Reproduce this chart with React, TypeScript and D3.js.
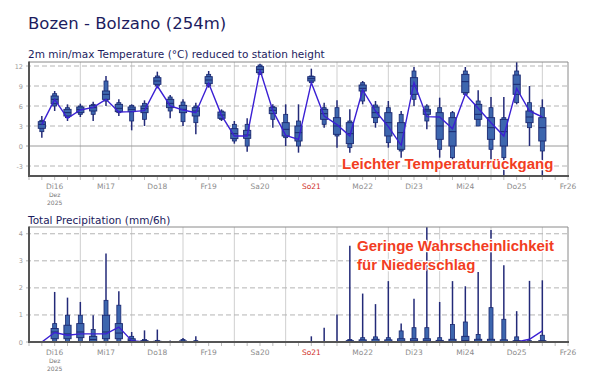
import * as React from 'react';
import * as d3 from 'd3';

// time axis: 16 Dec 00 UTC .. 26 Dec 12 UTC, ensemble boxes every 6h
const startTime = new Date(Date.UTC(2025, 11, 16, 0));
const endTime = new Date(Date.UTC(2025, 11, 26, 12));
const dayLabels = ['Di16', 'Mi17', 'Do18', 'Fr19', 'Sa20', 'So21', 'Mo22', 'Di23', 'Mi24', 'Do25', 'Fr26'];
const sundayLabel = 'So21';

// 2m temperature (°C), one value per 6h step
const tMin = [1.25, 5.25, 3.75, 4.35, 3.75, 6.0, 4.5, 2.35, 3.0, 8.65, 4.15, 3.0, 1.75, 8.75, 3.75, 0.35, -0.85, 10.65, 2.75, 0, -1.0, 9.4, 2.75, -0.25, -1.0, 6.25, 2.75, -0.25, -1.75, 6.0, 2.5, -1.75, -2.0, 7.75, 3.0, -2.0, -4.8, 6.25, 0, -4.8];
const tP10 = [2.15, 6.0, 4.25, 4.75, 4.75, 6.75, 5.0, 3.75, 4.0, 9.0, 5.25, 3.65, 3.5, 9.0, 4.0, 0.75, 0, 10.75, 4.0, 1.25, 0, 9.5, 3.25, 1.5, -0.25, 6.75, 3.5, 0.5, -0.75, 7.0, 3.75, -0.5, -1.75, 7.75, 3.0, -0.5, -1.75, 6.5, 2.75, -0.75];
const tP25 = [2.65, 6.35, 4.5, 5.0, 5.25, 7.0, 5.15, 5.15, 5.0, 9.25, 5.75, 5.0, 4.5, 9.35, 4.15, 1.1, 1.15, 11.0, 4.85, 1.5, 0.75, 9.75, 4.0, 1.75, 0.35, 8.25, 4.25, 1.5, -0.5, 7.75, 4.75, 1.0, 0, 8.0, 4.0, 1.0, 0, 7.75, 3.5, 0.75];
const tMed = [3.25, 7.0, 5.0, 5.5, 5.75, 7.75, 5.65, 5.5, 5.6, 9.75, 6.4, 5.5, 5.25, 9.9, 4.65, 1.85, 1.65, 11.5, 5.35, 2.5, 2.0, 10.1, 4.85, 3.0, 1.85, 8.65, 5.0, 3.5, 2.0, 9.0, 5.25, 3.0, 2.15, 9.65, 4.75, 2.75, 2.15, 9.25, 4.35, 2.75];
const tP75 = [3.65, 7.5, 5.5, 5.85, 6.1, 8.25, 6.25, 5.85, 6.0, 10.25, 7.0, 6.1, 5.75, 10.4, 5.1, 2.6, 2.35, 11.9, 5.75, 3.5, 3.0, 10.4, 5.5, 4.25, 3.5, 9.15, 5.85, 5.0, 3.5, 10.25, 5.5, 5.0, 4.25, 10.75, 6.25, 4.25, 4.0, 10.65, 5.25, 4.25];
const tP90 = [3.85, 7.85, 5.75, 6.0, 6.25, 9.75, 6.5, 6.1, 6.4, 10.5, 7.35, 6.6, 6.0, 10.75, 5.25, 3.25, 3.25, 12.15, 5.9, 4.75, 3.75, 10.5, 5.75, 5.75, 3.75, 9.5, 6.15, 5.75, 4.75, 11.25, 6.0, 5.75, 5.0, 11.25, 6.75, 5.75, 4.25, 11.25, 6.5, 5.75];
const tMax = [4.5, 8.25, 6.25, 6.35, 6.65, 10.5, 7.0, 6.25, 6.85, 11.15, 7.65, 7.0, 6.5, 11.25, 5.5, 3.75, 4.15, 12.35, 6.25, 6.25, 6.25, 11.6, 6.5, 6.85, 5.5, 9.75, 6.75, 6.75, 5.25, 11.85, 6.25, 7.25, 5.25, 11.85, 8.35, 7.35, 7.35, 12.65, 9.0, 7.0];
const tLine = [3.2, 7.0, 4.15, 5.4, 5.8, 7.0, 5.1, 5.15, 5.3, 9.0, 6.0, 5.4, 5.0, 9.4, 4.6, 1.5, 1.5, 11.4, 5.3, 1.6, 1.0, 9.5, 4.5, 3.2, 1.5, 8.4, 5.25, 2.9, 0.1, 9.5, 4.4, 4.35, 2.6, 7.8, 5.65, 3.5, 1.5, 8.6, 5.25, 4.35];
const tTicks = [-3, 0, 3, 6, 9, 12];

// total precipitation (mm/6h)
const pMax = [0, 1.85, 1.64, 1.48, 0.99, 3.27, 1.88, 0.37, 0.43, 0.46, 0.06, 0.15, 0.21, 0, 0, 0, 0, 0, 0, 0, 0, 0.21, 0.53, 1.02, 3.56, 1.79, 1.4, 2.25, 0.68, 1.6, 5.0, 1.48, 2.25, 2.06, 2.59, 4.14, 2.84, 1.14, 2.26, 2.28];
const pP90 = [0, 0.68, 0.99, 0.99, 0.46, 1.54, 1.36, 0.21, 0.09, 0.06, 0.02, 0.09, 0.05, 0, 0, 0, 0, 0, 0, 0, 0, 0, 0, 0, 0.09, 0.16, 0.19, 0.16, 0.41, 0.53, 0.53, 0.16, 0.65, 0.74, 0.28, 1.27, 0.84, 0.19, 0.05, 0.25];
const pP75 = [0, 0.5, 0.62, 0.68, 0.21, 0.99, 0.68, 0.12, 0.05, 0.03, 0, 0.04, 0.02, 0, 0, 0, 0, 0, 0, 0, 0, 0, 0, 0, 0.05, 0.08, 0.1, 0.08, 0.12, 0.12, 0.12, 0.06, 0.1, 0.21, 0.1, 0.1, 0.08, 0.05, 0, 0.05];
const pMed = [0, 0.37, 0.3, 0.37, 0.09, 0.37, 0.33, 0.05, 0.02, 0.01, 0, 0.01, 0, 0, 0, 0, 0, 0, 0, 0, 0, 0, 0, 0, 0.01, 0.02, 0.02, 0.02, 0.03, 0.04, 0.04, 0.02, 0.03, 0.05, 0.03, 0.03, 0.02, 0.01, 0, 0.01];
const pP25 = [0, 0.12, 0.12, 0.16, 0, 0.12, 0.12, 0, 0, 0, 0, 0, 0, 0, 0, 0, 0, 0, 0, 0, 0, 0, 0, 0, 0, 0, 0, 0, 0, 0, 0, 0, 0, 0, 0, 0, 0, 0, 0, 0];
const pLine = [0, 0.35, 0.25, 0.3, 0.3, 0.3, 0.55, 0.05, 0, 0, 0, 0, 0, 0, 0, 0, 0, 0, 0, 0, 0, 0, 0, 0, 0, 0, 0, 0, 0, 0, 0, 0, 0, 0, 0, 0, 0, 0, 0.1, 0.41];
const pTicks = [0, 1, 2, 3, 4];

const navy = '#1c1c5e';
const boxFill = '#3d66ae';
const boxStroke = '#1b2870';
const whiskerColor = '#232a78';
const lineColor = '#3b20d4';
const redText = '#f23d22';
const axisGray = '#8c8c8c';

const left = 29;
const right = 568;

const x = d3.scaleUtc().domain([startTime, endTime]).range([left, right]);
const stepTimes = tMin.map((_, i) => d3.utcHour.offset(startTime, 6 * (i + 1)));
const dayStarts = d3.utcDay.range(d3.utcDay.offset(startTime, 1), endTime);
const sixHours = d3.utcHour.every(6)!.range(startTime, d3.utcHour.offset(endTime, 1));
const noons = dayLabels.map((_, i) => d3.utcHour.offset(startTime, 12 + 24 * i));

interface PanelProps {
  id: string;
  top: number;
  bottom: number;
  domain: [number, number];
  ticks: number[];
  lo: number[];
  p10: number[];
  p25: number[];
  med: number[];
  p75: number[];
  p90: number[];
  hi: number[];
  line: number[];
  zeroLine: boolean;
}

function Panel(props: PanelProps) {
  const y = d3.scaleLinear().domain(props.domain).range([props.bottom, props.top]);
  const path = d3.line<number>()
    .x((_, i) => x(stepTimes[i]))
    .y(d => y(d))(props.line);

  return <g>
    <defs>
      <clipPath id={props.id}>
        <rect x={left} y={props.top} width={right - left} height={props.bottom - props.top} />
      </clipPath>
    </defs>
    <rect x={left} y={props.top} width={right - left} height={props.bottom - props.top} fill="#fff" />
    {dayStarts.map((d, i) => <line key={'v' + i} x1={x(d)} x2={x(d)} y1={props.top} y2={props.bottom} stroke="#cfcfcf" strokeWidth={1} />)}
    {props.ticks.map(t => <g key={'h' + t}>
      <line x1={left - 3} x2={right} y1={y(t)} y2={y(t)}
        stroke={t === 0 && props.zeroLine ? '#9a9a9a' : '#b4b4b4'}
        strokeWidth={1}
        strokeDasharray={t === 0 && props.zeroLine ? undefined : '5,3'} />
      <text x={left - 6} y={y(t) + 2.5} textAnchor="end" fontSize={6.5} fill="#9a9a9a">{t}</text>
    </g>)}
    <g clipPath={`url(#${props.id})`}>
      {stepTimes.map((d, i) => {
        const cx = x(d);
        return <g key={'b' + i}>
          <line x1={cx} x2={cx} y1={y(props.lo[i])} y2={y(props.hi[i])} stroke={whiskerColor} strokeWidth={1.5} />
          <rect x={cx - 2} y={y(props.p90[i])} width={4} height={Math.max(0.5, y(props.p10[i]) - y(props.p90[i]))}
            fill={boxFill} stroke={boxStroke} strokeWidth={0.8} />
          <rect x={cx - 3.6} y={y(props.p75[i])} width={7.2} height={Math.max(0.5, y(props.p25[i]) - y(props.p75[i]))}
            fill={boxFill} stroke={boxStroke} strokeWidth={0.9} />
          <line x1={cx - 3.6} x2={cx + 3.6} y1={y(props.med[i])} y2={y(props.med[i])} stroke={boxStroke} strokeWidth={1} />
        </g>;
      })}
      <path d={path || ''} fill="none" stroke={lineColor} strokeWidth={1.4} />
    </g>
    <line x1={left} x2={right} y1={props.top} y2={props.top} stroke="#8a8a8a" strokeWidth={1} />
    <line x1={right} x2={right} y1={props.top} y2={props.bottom} stroke="#8a8a8a" strokeWidth={1} />
    <line x1={left} x2={left} y1={props.top - 0.5} y2={props.bottom + 1} stroke="#555" strokeWidth={2} />
    <line x1={left} x2={right + 1} y1={props.bottom} y2={props.bottom} stroke="#555" strokeWidth={2} />
    {sixHours.map((d, i) => <line key={'t' + i} x1={x(d)} x2={x(d)} y1={props.bottom + 1} y2={props.bottom + 4} stroke="#aaa" strokeWidth={0.8} />)}
    {noons.map((d, i) => <text key={'l' + i} x={x(d)} y={props.bottom + 12.5} textAnchor="middle" fontSize={7.5}
      fill={dayLabels[i] === sundayLabel ? '#d0302a' : axisGray}>{dayLabels[i]}</text>)}
    <text x={x(noons[0])} y={props.bottom + 20.5} textAnchor="middle" fontSize={6} fill="#777">Dez</text>
    <text x={x(noons[0])} y={props.bottom + 29} textAnchor="middle" fontSize={6} fill="#777">2025</text>
  </g>;
}

export default function App() {
  const halo = { paintOrder: 'stroke' as const };
  return <svg width={597} height={387} style={{ position: 'absolute', left: 0, top: 0, fontFamily: 'DejaVu Sans, sans-serif' }}>
    <rect width={597} height={387} fill="#fff" />
    <text x={28} y={29} fontSize={16.5} fill={navy}>Bozen - Bolzano (254m)</text>
    <text x={28} y={58} fontSize={10.5} fill={navy}>2m min/max Temperature (°C) reduced to station height</text>
    <Panel id="clipT" top={62} bottom={176} domain={[-4.5, 12.6]} ticks={tTicks}
      lo={tMin} p10={tP10} p25={tP25} med={tMed} p75={tP75} p90={tP90} hi={tMax} line={tLine} zeroLine={true} />
    <text x={28} y={224} fontSize={10.5} fill={navy}>Total Precipitation (mm/6h)</text>
    <Panel id="clipP" top={227} bottom={342} domain={[0, 4.25]} ticks={pTicks}
      lo={pP25.map(() => 0)} p10={pP25.map(() => 0)} p25={pP25} med={pMed} p75={pP75} p90={pP90} hi={pMax} line={pLine} zeroLine={false} />
    <g fontFamily="Liberation Sans, Arial, sans-serif" fontWeight="bold" fontSize={15} fill={redText}
      stroke="#fff" strokeWidth={2.5} strokeLinejoin="round" style={halo}>
      <text x={342} y={169}>Leichter Temperaturrückgang</text>
      <text x={357} y={250.5}>Geringe Wahrscheinlichkeit</text>
      <text x={357} y={269.5}>für Niederschlag</text>
    </g>
  </svg>;
}
